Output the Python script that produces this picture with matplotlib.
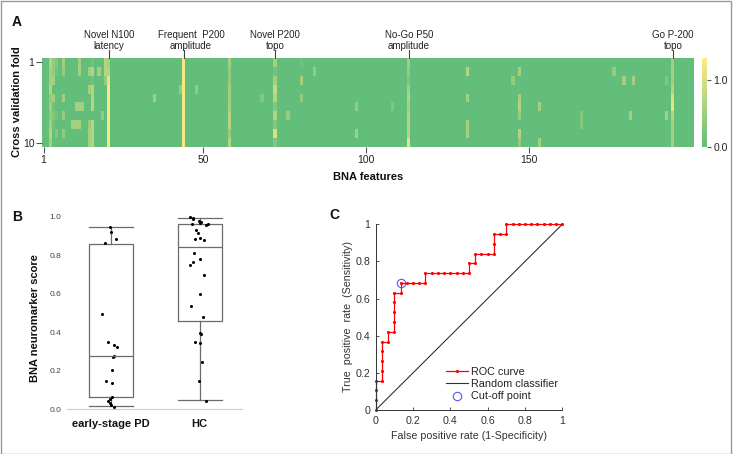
import matplotlib
matplotlib.use('Agg')
import matplotlib.pyplot as plt
import numpy as np
from matplotlib.colors import LinearSegmentedColormap
from matplotlib.patches import Rectangle
import matplotlib.transforms as mtransforms

plt.rcParams['font.family'] = ['Liberation Sans', 'DejaVu Sans']

# ---------------- Panel A data ----------------
n_features = 200
n_folds = 10
hot_features = [3, 4, 5, 7, 10, 11, 12, 13, 15, 16, 18, 19, 20, 21,
                35, 43, 44, 48, 58, 68, 72, 76, 80, 84, 97, 108, 113,
                131, 145, 147, 153, 166, 176, 179, 181, 182, 192, 194]
# one digit per fold (0..9), scaled by level_step
hot_levels = ["5445343454", "3340412100", "2100001020", "4300403030",
              "0000000400", "0000040400", "4400040400", "0000040000",
              "0404000344", "1515550555", "0400000000", "0000003000",
              "5530000000", "4589999999",
              "0000400000", "0003000000", "9999999999", "0003000000",
              "4334445535", "0000200000", "4146525272", "0000003000",
              "1040300000", "0300000000", "0000030040", "0000020000",
              "4324545558",
              "0500400440", "0030000000", "0400453053", "0000040004",
              "0000002200", "0300000000", "0040000000", "0000004000",
              "0040000000", "0020004000", "4445785444"]
level_step = 0.14
ann_features = [21, 44, 72, 113, 194]
ann_labels = ["Novel N100\nlatency", "Frequent  P200\namplitude",
              "Novel P200\ntopo", "No-Go P50\namplitude", "Go P-200\ntopo"]
xticks_a = [1, 50, 100, 150]
yticks_a = [1, 10]

# ---------------- Panel B data ----------------
groups = ["early-stage PD", "HC"]
box_whislo = [0.015, 0.048]
box_q1 = [0.065, 0.46]
box_med = [0.275, 0.845]
box_q3 = [0.86, 0.96]
box_whishi = [0.945, 0.995]
pd_x = [0.985, 1.0, 1.05, 0.925, 0.895, 0.96, 1.027, 1.068, 1.03, 1.019,
        1.011, 0.943, 1.011, 1.004, 0.99, 0.966, 0.985, 0.995, 1.03]
pd_y = [0.948, 0.919, 0.882, 0.862, 0.495, 0.349, 0.332, 0.325, 0.275, 0.273,
        0.202, 0.145, 0.138, 0.064, 0.055, 0.043, 0.031, 0.024, 0.014]
hc_x = [1.89, 1.92, 1.93, 1.995, 2.0, 1.915, 2.01, 2.07, 2.1, 1.955,
        1.983, 1.95, 2.006, 2.05, 1.938, 1.923, 1.89, 2.006, 2.044, 2.006,
        1.907, 2.033, 2.006, 2.02, 1.945, 2.006, 2.028, 1.99, 2.07]
hc_y = [0.997, 0.986, 0.993, 0.979, 0.969, 0.960, 0.974, 0.958, 0.962, 0.931,
        0.913, 0.884, 0.888, 0.879, 0.811, 0.765, 0.749, 0.779, 0.696, 0.597,
        0.535, 0.478, 0.398, 0.393, 0.351, 0.343, 0.246, 0.147, 0.045]

# ---------------- Panel C data ----------------
n_neg = 30
n_pos = 19
roc_fp = [0, 0, 0, 0, 1, 1, 1, 1, 1, 2, 2, 3, 3, 3, 3, 3, 4, 4, 5, 6, 7, 8,
          8, 9, 10, 11, 12, 13, 14, 15, 15, 16, 16, 17, 18, 19, 19, 19, 20,
          21, 21, 22, 23, 24, 25, 26, 27, 28, 29, 30]
roc_tp = [0, 1, 2, 3, 3, 4, 5, 6, 7, 7, 8, 8, 9, 10, 11, 12, 12, 13, 13, 13,
          13, 13, 14, 14, 14, 14, 14, 14, 14, 14, 15, 15, 16, 16, 16, 16, 17,
          18, 18, 18, 19, 19, 19, 19, 19, 19, 19, 19, 19, 19]
cutoff_fp = 4
cutoff_tp = 13

W, H = 734, 454
fig = plt.figure(figsize=(W / 100, H / 100), dpi=100)


def fx(x):
    return x / W


def fy(y):
    return 1 - y / H


def rect(x0, y0, x1, y1):
    return [fx(x0), fy(y1), fx(x1) - fx(x0), fy(y0) - fy(y1)]


txt = '#222222'

# ---------------- Panel A ----------------
heat = np.zeros((n_folds, n_features))
for f, lv in zip(hot_features, hot_levels):
    heat[:, f - 1] = [int(c) * level_step for c in lv]

cmap = LinearSegmentedColormap.from_list('gy', ['#63BE7B', '#FFEB84'])
axA = fig.add_axes(rect(42, 58, 694, 147))
im = axA.imshow(heat, aspect='auto', cmap=cmap, vmin=0, vmax=1.33,
                extent=(0.5, n_features + 0.5, n_folds + 0.5, 0.5),
                interpolation='nearest')
for s in axA.spines.values():
    s.set_visible(False)
axA.set_xticks(xticks_a)
axA.set_xticklabels([str(t) for t in xticks_a])
axA.set_yticks(yticks_a)
axA.set_yticklabels([str(t) for t in yticks_a])
axA.tick_params(labelsize=7.5, colors='#555555', labelcolor=txt, length=4,
                width=0.8)
axA.tick_params(axis='x', pad=2)
axA.tick_params(axis='y', pad=1.5)
trans = mtransforms.blended_transform_factory(axA.transData, axA.transAxes)
for f, lab in zip(ann_features, ann_labels):
    axA.plot([f, f], [1.0, 1.09], color='#444444', lw=0.8, transform=trans,
             clip_on=False)
    tx = f + (2.2 if lab.startswith('Frequent') else 0)
    axA.text(tx, 1.077, lab, transform=trans, ha='center', va='bottom',
             fontsize=7, color=txt, linespacing=1.17)

cax = fig.add_axes(rect(701.5, 58, 707, 147))
cb = fig.colorbar(im, cax=cax, ticks=[0, 1.0], format='%.1f')
cb.outline.set_visible(False)
cax.tick_params(labelsize=7.5, length=3, width=0.8, colors='#555555',
                labelcolor=txt, pad=1.5)

fig.text(fx(17), fy(22), 'A', fontsize=10, fontweight='bold', ha='center',
         va='center', color='#111111')
fig.text(fx(368), fy(177), 'BNA features', fontsize=8, fontweight='bold',
         ha='center', va='center', color='#111111')
fig.text(fx(17), fy(102), 'Cross validation fold', fontsize=8,
         fontweight='bold', ha='center', va='center', rotation=90,
         color='#111111')

# ---------------- Panel B ----------------
axB = fig.add_axes(rect(67, 207.1, 242, 409.3))
stats = []
for i in range(len(groups)):
    stats.append(dict(med=box_med[i], q1=box_q1[i], q3=box_q3[i],
                      whislo=box_whislo[i], whishi=box_whishi[i],
                      fliers=[], label=groups[i]))
bc = '#6b6b6b'
axB.bxp(stats, positions=[1, 2], widths=0.5, showfliers=False,
        boxprops=dict(color=bc, lw=0.9), medianprops=dict(color=bc, lw=0.9),
        whiskerprops=dict(color=bc, lw=0.9), capprops=dict(color=bc, lw=0.9),
        capwidths=0.5)
axB.plot(pd_x, pd_y, 'o', color='black', ms=2.2, mew=0, clip_on=False)
axB.plot(hc_x, hc_y, 'o', color='black', ms=2.2, mew=0, clip_on=False)
axB.set_xlim(0.498, 2.48)
axB.set_ylim(0, 1.05)
axB.set_yticks([0, 0.2, 0.4, 0.6, 0.8, 1.0])
axB.set_yticklabels(['0.0', '0.2', '0.4', '0.6', '0.8', '1.0'])
axB.tick_params(axis='y', length=0, pad=4, labelsize=6, labelcolor='#444444')
axB.tick_params(axis='x', length=0, pad=7, labelsize=8)
axB.set_xticks([1, 2])
axB.set_xticklabels(groups, fontweight='bold', color='#111111')
for k in ['top', 'right', 'left']:
    axB.spines[k].set_visible(False)
axB.spines['bottom'].set_color('#cccccc')
axB.spines['bottom'].set_linewidth(0.8)
fig.text(fx(35), fy(318), 'BNA neuromarker score', fontsize=8,
         fontweight='bold', ha='center', va='center', rotation=90,
         color='#111111')
fig.text(fx(17), fy(217), 'B', fontsize=10, fontweight='bold', ha='center',
         va='center', color='#111111')

# ---------------- Panel C ----------------
axC = fig.add_axes(rect(375.7, 224.3, 562.3, 410))
fpr = [v / n_neg for v in roc_fp]
tpr = [v / n_pos for v in roc_tp]
axC.plot(fpr, tpr, '-', color='#ff0000', lw=0.9, marker='.', ms=2.5,
         label='ROC curve', clip_on=False)
axC.plot([0, 1], [0, 1], '-', color='#333333', lw=0.8,
         label='Random classifier')
axC.plot([cutoff_fp / n_neg], [cutoff_tp / n_pos], 'o', mfc='none',
         mec='#5555ff', ms=6, mew=0.8, label='Cut-off point', clip_on=False)
axC.set_xlim(0, 1)
axC.set_ylim(0, 1)
axC.set_xticks([0, 0.2, 0.4, 0.6, 0.8, 1])
axC.set_xticklabels(['0', '0.2', '0.4', '0.6', '0.8', '1'])
axC.set_yticks([0, 0.2, 0.4, 0.6, 0.8, 1])
axC.set_yticklabels(['0', '0.2', '0.4', '0.6', '0.8', '1'])
axC.tick_params(direction='in', length=2.5, width=0.6, labelsize=7.7,
                colors='#333333', pad=4)
for k in ['top', 'right']:
    axC.spines[k].set_visible(False)
for k in ['left', 'bottom']:
    axC.spines[k].set_color('#333333')
    axC.spines[k].set_linewidth(0.7)
leg = axC.legend(loc='upper left', bbox_to_anchor=(fx(446), fy(367)),
                 bbox_transform=fig.transFigure, frameon=False, fontsize=7.8,
                 handlelength=2.0, handletextpad=0.35, labelspacing=0.2,
                 borderpad=0, borderaxespad=0)
for t in leg.get_texts():
    t.set_color('#222222')
fig.text(fx(469), fy(436), 'False positive rate (1-Specificity)', fontsize=7.7,
         ha='center', va='center', color='#333333')
fig.text(fx(348), fy(317), 'True  positive  rate  (Sensitivity)', fontsize=7.7,
         ha='center', va='center', rotation=90, color='#333333')
fig.text(fx(334), fy(215), 'C', fontsize=10, fontweight='bold', ha='center',
         va='center', color='#111111')

fig.add_artist(Rectangle((0.0007, 0.001), 0.9955, 0.997,
                         transform=fig.transFigure, fill=False,
                         edgecolor='#999999', lw=1.0))

fig.savefig('out.png', dpi=100)
